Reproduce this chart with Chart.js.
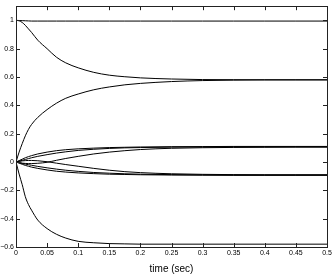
<!DOCTYPE html>
<html>
<head>
<meta charset="utf-8">
<script src="https://cdn.jsdelivr.net/npm/chart.js@4/dist/chart.umd.min.js"></script>
<style>
  html, body { margin: 0; padding: 0; background: #fff; }
  #wrap { width: 334px; height: 275px; }
</style>
</head>
<body>
<div id="wrap"><canvas id="simChart"></canvas></div>
<script>
// sample times (sec)
const times = [0, 0.005, 0.01, 0.015, 0.02, 0.025, 0.035, 0.05, 0.065, 0.08, 0.1, 0.125, 0.15, 0.175, 0.2, 0.25, 0.3, 0.35, 0.4, 0.45, 0.5];

// series
const seriesA = [1, 0.999, 0.998, 0.997, 0.996, 0.995, 0.995, 0.995, 0.995, 0.995, 0.995, 0.995, 0.995, 0.995, 0.995, 0.995, 0.995, 0.995, 0.995, 0.995, 0.995];
const seriesB = [1, 0.997, 0.985, 0.965, 0.94, 0.915, 0.86, 0.8, 0.74, 0.7, 0.665, 0.633, 0.613, 0.602, 0.594, 0.586, 0.582, 0.581, 0.58, 0.58, 0.58];
const seriesC = [0, 0.07, 0.13, 0.185, 0.23, 0.265, 0.315, 0.37, 0.415, 0.45, 0.48, 0.51, 0.53, 0.545, 0.555, 0.568, 0.575, 0.578, 0.58, 0.58, 0.58];
const seriesD = [0, -0.085, -0.16, -0.245, -0.3, -0.34, -0.41, -0.47, -0.51, -0.537, -0.56, -0.57, -0.576, -0.578, -0.58, -0.58, -0.58, -0.58, -0.58, -0.58, -0.58];
const seriesU1 = [0, 0.01, 0.02, 0.03, 0.038, 0.045, 0.057, 0.07, 0.08, 0.087, 0.093, 0.098, 0.102, 0.104, 0.106, 0.108, 0.109, 0.11, 0.11, 0.11, 0.11];
const seriesU2 = [0, 0.006, 0.012, 0.018, 0.024, 0.03, 0.04, 0.052, 0.063, 0.072, 0.082, 0.09, 0.096, 0.1, 0.102, 0.105, 0.106, 0.107, 0.107, 0.107, 0.107];
const seriesU3 = [0, -0.004, -0.008, -0.01, -0.011, -0.011, -0.009, -0.002, 0.012, 0.025, 0.04, 0.057, 0.07, 0.08, 0.088, 0.097, 0.101, 0.103, 0.104, 0.105, 0.105];
const seriesL1 = [0, -0.008, -0.016, -0.024, -0.03, -0.036, -0.045, -0.056, -0.065, -0.071, -0.077, -0.082, -0.086, -0.088, -0.09, -0.092, -0.093, -0.094, -0.094, -0.094, -0.094];
const seriesL2 = [0, -0.005, -0.01, -0.015, -0.019, -0.023, -0.031, -0.041, -0.05, -0.058, -0.066, -0.074, -0.079, -0.083, -0.086, -0.089, -0.091, -0.092, -0.092, -0.092, -0.092];
const seriesL3 = [0, 0.004, 0.008, 0.01, 0.011, 0.011, 0.009, 0.002, -0.008, -0.018, -0.03, -0.045, -0.058, -0.068, -0.075, -0.083, -0.087, -0.089, -0.09, -0.09, -0.09];

const xTicks = [0, 0.05, 0.1, 0.15, 0.2, 0.25, 0.3, 0.35, 0.4, 0.45, 0.5];
const yTicks = [-0.6, -0.4, -0.2, 0, 0.2, 0.4, 0.6, 0.8, 1];

const allSeries = [seriesA, seriesB, seriesC, seriesD, seriesU1, seriesU2, seriesU3, seriesL1, seriesL2, seriesL3];

function fmt(v) {
    const s = String(+v.toFixed(2));
    return s.replace('-', '\u2212');
}

// box and inward ticks, matlab style
const boxPlugin = {
    id: 'boxPlugin',
    afterDraw(chart) {
        const ctx = chart.ctx;
        const a = chart.chartArea;
        const xs = chart.scales.x;
        const ys = chart.scales.y;
        ctx.save();
        ctx.strokeStyle = '#222';
        ctx.lineWidth = 1;
        ctx.strokeRect(Math.round(a.left) + 0.5, Math.round(a.top) + 0.5,
            Math.round(a.right - a.left), Math.round(a.bottom - a.top));
        ctx.beginPath();
        xTicks.forEach(v => {
            const px = Math.round(xs.getPixelForValue(v)) + 0.5;
            ctx.moveTo(px, a.bottom); ctx.lineTo(px, a.bottom - 4);
            ctx.moveTo(px, a.top); ctx.lineTo(px, a.top + 4);
        });
        yTicks.forEach(v => {
            const py = Math.round(ys.getPixelForValue(v)) + 0.5;
            ctx.moveTo(a.left, py); ctx.lineTo(a.left + 4, py);
            ctx.moveTo(a.right, py); ctx.lineTo(a.right - 4, py);
        });
        ctx.stroke();
        ctx.restore();
    }
};

const ctx = document.getElementById('simChart').getContext('2d');

const simChart = new Chart(ctx, {
    type: 'line',
    data: {
        labels: times,
        datasets: allSeries.map(s => ({
            data: s.map((v, i) => ({ x: times[i], y: v })),
            borderColor: '#000',
            borderWidth: 1,
            pointRadius: 0,
            fill: false,
            cubicInterpolationMode: 'monotone'
        }))
    },
    options: {
        responsive: true,
        maintainAspectRatio: false,
        animation: false,
        layout: {
            padding: { top: 3, right: 7, left: 0, bottom: 0 }
        },
        plugins: {
            legend: { display: false },
            tooltip: { enabled: false }
        },
        scales: {
            x: {
                type: 'linear',
                min: 0,
                max: 0.5,
                grid: { display: false, drawTicks: false },
                border: { display: false },
                afterBuildTicks: (scale) => {
                    scale.ticks = xTicks.map(v => ({ value: v }));
                },
                afterFit: (scale) => { scale.height = 28; },
                ticks: {
                    padding: 2,
                    maxRotation: 0,
                    autoSkip: false,
                    color: '#000',
                    font: { family: 'Liberation Sans, Arial, sans-serif', size: 7 },
                    callback: (value) => fmt(value)
                },
                title: {
                    display: true,
                    text: 'time (sec)',
                    color: '#000',
                    padding: { top: 3, bottom: 0 },
                    font: { family: 'Liberation Sans, Arial, sans-serif', size: 10 }
                }
            },
            y: {
                min: -0.6,
                max: 1.1,
                grid: { display: false, drawTicks: false },
                border: { display: false },
                afterBuildTicks: (scale) => {
                    scale.ticks = yTicks.map(v => ({ value: v }));
                },
                afterFit: (scale) => { scale.width = 16; },
                ticks: {
                    padding: 2,
                    autoSkip: false,
                    color: '#000',
                    font: { family: 'Liberation Sans, Arial, sans-serif', size: 7 },
                    callback: (value) => fmt(value)
                }
            }
        }
    },
    plugins: [boxPlugin]
});
</script>
</body>
</html>
